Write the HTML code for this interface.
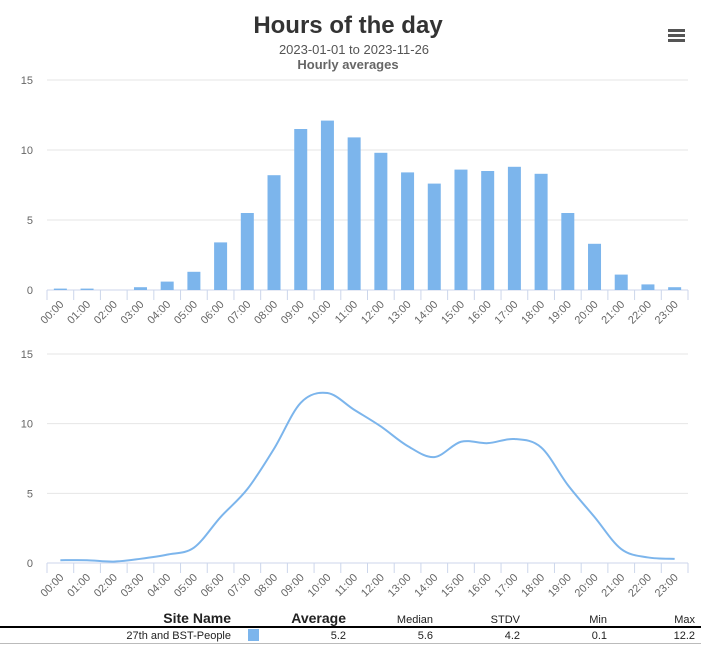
<!DOCTYPE html>
<html><head><meta charset="utf-8"><style>
body{margin:0;background:#fff;width:701px;height:652px;overflow:hidden;font-family:"Liberation Sans",sans-serif;}
svg{position:absolute;left:0;top:0}
</style></head><body>
<svg id="c" width="701" height="652">
<text x="348" y="33" text-anchor="middle" font-size="24" font-weight="bold" fill="#333">Hours of the day</text>
<text x="354" y="54" text-anchor="middle" font-size="13" fill="#555">2023-01-01 to 2023-11-26</text>
<text x="348" y="69" text-anchor="middle" font-size="13" font-weight="bold" fill="#666">Hourly averages</text>
<g fill="#555">
<rect x="668" y="29" width="17" height="3"/><rect x="668" y="34" width="17" height="3"/><rect x="668" y="39" width="17" height="3"/>
</g>
<g id="top"></g><g id="bot"></g>
<g font-size="11" fill="#222">
<text x="231" y="623" text-anchor="end" font-size="14" font-weight="bold">Site Name</text>
<text x="346" y="623" text-anchor="end" font-size="14" font-weight="bold">Average</text>
<text x="433" y="623" text-anchor="end">Median</text>
<text x="520" y="623" text-anchor="end">STDV</text>
<text x="607" y="623" text-anchor="end">Min</text>
<text x="695" y="623" text-anchor="end">Max</text>
<rect x="0" y="626" width="701" height="2" fill="#000"/>
<text x="231" y="639" text-anchor="end">27th and BST-People</text>
<rect x="248" y="629" width="11" height="12" fill="#7cb5ec"/>
<text x="346" y="639" text-anchor="end">5.2</text>
<text x="433" y="639" text-anchor="end">5.6</text>
<text x="520" y="639" text-anchor="end">4.2</text>
<text x="607" y="639" text-anchor="end">0.1</text>
<text x="695" y="639" text-anchor="end">12.2</text>
<rect x="0" y="643" width="701" height="1" fill="#bbb"/>
</g>
</svg>
<script>
const categories=["00:00","01:00","02:00","03:00","04:00","05:00","06:00","07:00","08:00","09:00","10:00","11:00","12:00","13:00","14:00","15:00","16:00","17:00","18:00","19:00","20:00","21:00","22:00","23:00"];
const barValues=[0.1,0.1,0,0.2,0.6,1.3,3.4,5.5,8.2,11.5,12.1,10.9,9.8,8.4,7.6,8.6,8.5,8.8,8.3,5.5,3.3,1.1,0.4,0.2];
const lineValues=[0.2,0.2,0.1,0.3,0.6,1.1,3.3,5.3,8.2,11.5,12.2,11.0,9.8,8.4,7.6,8.7,8.6,8.9,8.3,5.6,3.3,1.0,0.4,0.3];
const yTicks=[0,5,10,15];
const NS="http://www.w3.org/2000/svg";
function mk(t,a,p){const e=document.createElementNS(NS,t);for(const k in a)e.setAttribute(k,a[k]);p.appendChild(e);return e;}
const X0=47,X1=688,cw=(X1-X0)/categories.length;
function xc(i){return X0+cw*(i+0.5);}
function drawAxes(g,top,bottom){
  const y=v=>bottom-(v/15)*(bottom-top);
  yTicks.forEach(t=>{
    const l=mk('line',{x1:X0,x2:X1,y1:y(t),y2:y(t),stroke:t===0?'#ccd6eb':'#e6e6e6'},g);
    
    
    const tx=mk('text',{x:33,y:y(t)+4,'text-anchor':'end','font-size':11,fill:'#666'},g);
    tx.textContent=t;
    
    
  });
  for(let i=0;i<=categories.length;i++){
    const tk=mk('line',{x1:X0+cw*i,x2:X0+cw*i,y1:bottom,y2:bottom+10,stroke:'#ccd6eb'},g);
    
    
  }
  categories.forEach((c,i)=>{
    const x=xc(i)+4,yy=bottom+15;
    const tx=mk('text',{x:x,y:yy,'text-anchor':'end','font-size':11,fill:'#666',transform:`rotate(-45 ${x} ${yy})`},g);
    tx.textContent=c;
    
    
  });
  return y;
}
const gt=document.getElementById('top');


const yt=drawAxes(gt,80,290);
barValues.forEach((v,i)=>{
  const r=mk('rect',{x:xc(i)-6.5,y:yt(v),width:13,height:290-yt(v),fill:'#7cb5ec'},gt);
  
  
});
const gb=document.getElementById('bot');


const yb=drawAxes(gb,354,563);
const pts=lineValues.map((v,i)=>[xc(i),yb(v)]);
let d=`M${pts[0][0]},${pts[0][1]}`;
for(let i=0;i<pts.length-1;i++){
  const p0=pts[Math.max(0,i-1)],p1=pts[i],p2=pts[i+1],p3=pts[Math.min(pts.length-1,i+2)];
  const c1=[p1[0]+(p2[0]-p0[0])/6,p1[1]+(p2[1]-p0[1])/6];
  const c2=[p2[0]-(p3[0]-p1[0])/6,p2[1]-(p3[1]-p1[1])/6];
  d+=` C${c1[0]},${c1[1]} ${c2[0]},${c2[1]} ${p2[0]},${p2[1]}`;
}
const ln=mk('path',{d:d,fill:'none',stroke:'#7cb5ec','stroke-width':2},gb);


</script>
</body></html>
